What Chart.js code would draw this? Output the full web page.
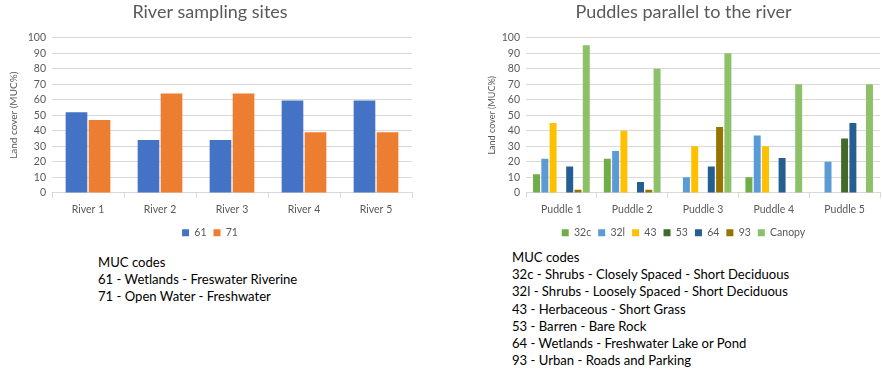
<!DOCTYPE html>
<html>
<head>
<meta charset="utf-8">
<script src="https://cdn.jsdelivr.net/npm/chart.js@4"></script>
<style>
  html, body { margin: 0; padding: 0; background: #fff; }
  body { width: 882px; height: 372px; position: relative; overflow: hidden; font-family: Lato, "Open Sans", sans-serif; }
  canvas { position: absolute; }
  #riverChart { left: 0; top: 0; }
  #puddleChart { left: 466px; top: 0; }
  .codes { position: absolute; font-size: 13.1px; line-height: 17.2px; color: #000; white-space: nowrap; }
  #riverCodes { left: 98px; top: 254px; }
  #puddleCodes { left: 512px; top: 249px; }
</style>
</head>
<body>
<canvas id="riverChart" width="425" height="248"></canvas>
<canvas id="puddleChart" width="416" height="248"></canvas>
<div class="codes" id="riverCodes"></div>
<div class="codes" id="puddleCodes"></div>
<script>
// River sampling sites: land cover share per MUC code
const riverSites = ['River 1', 'River 2', 'River 3', 'River 4', 'River 5'];
const muc61 = [52, 34, 34, 59.5, 59.5];
const muc71 = [47, 64, 64, 39, 39];

// Puddles parallel to the river
const puddles = ['Puddle 1', 'Puddle 2', 'Puddle 3', 'Puddle 4', 'Puddle 5'];
const muc32c = [12, 22, null, 10, null];
const muc32l = [22, 27, 10, 37, 20];
const muc43 = [45, 40, 30, 30, null];
const muc53 = [null, null, null, null, 35];
const muc64 = [17, 7, 17, 22.5, 45];
const muc93 = [2, 2, 42.5, null, null];
const canopy = [95, 80, 90, 70, 70];

// Legend texts under each chart
const riverCodeLines = [
  'MUC codes',
  '61 - Wetlands - Freswater Riverine',
  '71 - Open Water - Freshwater'
];
const puddleCodeLines = [
  'MUC codes',
  '32c - Shrubs - Closely Spaced - Short Deciduous',
  '32l - Shrubs - Loosely Spaced - Short Deciduous',
  '43 - Herbaceous - Short Grass',
  '53 - Barren - Bare Rock',
  '64 - Wetlands - Freshwater Lake or Pond',
  '93 - Urban - Roads and Parking'
];

function fillLines(id, lines) {
  const el = document.getElementById(id);
  lines.forEach(t => {
    const d = document.createElement('div');
    d.textContent = t;
    el.appendChild(d);
  });
}
fillLines('riverCodes', riverCodeLines);
fillLines('puddleCodes', puddleCodeLines);

const FONT = 'Lato, "Open Sans", sans-serif';
const GRAY = '#595959';
const GRID = '#d9d9d9';

function baseOptions(title, yTitleSize, yWidth, cat, bar, pad) {
  return {
    responsive: false,
    animation: false,
    devicePixelRatio: 1,
    layout: { padding: pad },
    categoryPercentage: cat,
    barPercentage: bar,
    plugins: {
      title: {
        display: true,
        text: title,
        color: GRAY,
        font: { family: FONT, size: 18, weight: 'normal' },
        padding: { top: 1, bottom: 15 }
      },
      legend: {
        position: 'bottom',
        labels: {
          color: GRAY,
          font: { family: FONT, size: 10.5 },
          boxWidth: 7,
          boxHeight: 7,
          padding: 7
        }
      },
      tooltip: { enabled: false }
    },
    scales: {
      x: {
        grid: {
          display: true,
          drawOnChartArea: false,
          drawTicks: true,
          tickLength: 5,
          color: GRID,
          offset: true
        },
        border: { display: true, color: GRID },
        ticks: { color: GRAY, font: { family: FONT, size: 10.5 }, padding: 5 }
      },
      y: {
        min: 0,
        max: 100,
        afterFit: s => { s.width = yWidth; },
        ticks: { stepSize: 10, autoSkip: false, color: GRAY, font: { family: FONT, size: 10.5 }, padding: 6 },
        grid: { color: GRID, drawTicks: false, lineWidth: 1 },
        border: { display: false },
        title: {
          display: true,
          text: 'Land cover (MUC%)',
          color: GRAY,
          font: { family: FONT, size: yTitleSize },
          padding: 0
        }
      }
    }
  };
}

new Chart(document.getElementById('riverChart'), {
  type: 'bar',
  data: {
    labels: riverSites,
    datasets: [
      { label: '61', data: muc61, backgroundColor: '#4472C4' },
      { label: '71', data: muc71, backgroundColor: '#ED7D31' }
    ]
  },
  options: baseOptions('River sampling sites', 10, 44, 0.64, 0.94, { left: 8, right: 13, top: 0, bottom: 0 })
});

new Chart(document.getElementById('puddleChart'), {
  type: 'bar',
  data: {
    labels: puddles,
    datasets: [
      { label: '32c', data: muc32c, backgroundColor: '#70AD47' },
      { label: '32l', data: muc32l, backgroundColor: '#5B9BD5' },
      { label: '43', data: muc43, backgroundColor: '#FFC000' },
      { label: '53', data: muc53, backgroundColor: '#43682B' },
      { label: '64', data: muc64, backgroundColor: '#255E91' },
      { label: '93', data: muc93, backgroundColor: '#997300' },
      { label: 'Canopy', data: canopy, backgroundColor: '#8CC168' }
    ]
  },
  options: baseOptions('Puddles parallel to the river', 9, 39, 0.82, 0.84, { left: 21, right: 2, top: 0, bottom: 0 })
});
</script>
</body>
</html>
